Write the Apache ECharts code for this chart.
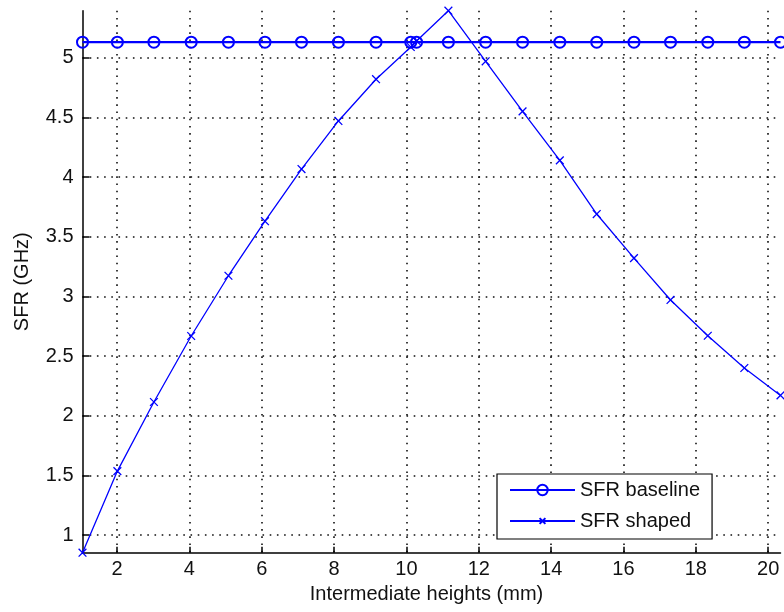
<!DOCTYPE html>
<html>
<head>
<meta charset="utf-8">
<script src="https://cdn.jsdelivr.net/npm/echarts@6/dist/echarts.min.js"></script>
<style>
html,body{margin:0;padding:0;background:#fff;}
#chart{width:784px;height:612px;}
</style>
</head>
<body>
<div id="chart"></div>
<script>
// Intermediate heights (mm) — x positions of the samples
const xHeights = [1.046, 2.01, 3.02, 4.05, 5.08, 6.09, 7.10, 8.12, 9.16, 10.12, 10.28,
                  11.16, 12.19, 13.21, 14.24, 15.26, 16.29, 17.30, 18.33, 19.34, 20.34];
// SFR baseline (GHz)
const sfrBaseline = [5.13, 5.13, 5.13, 5.13, 5.13, 5.13, 5.13, 5.13, 5.13, 5.13, 5.13,
                     5.13, 5.13, 5.13, 5.13, 5.13, 5.13, 5.13, 5.13, 5.13, 5.13];
// SFR shaped (GHz)
const sfrShaped = [0.852, 1.536, 2.115, 2.668, 3.173, 3.63, 4.067, 4.47, 4.82, 5.09, 5.14,
                   5.394, 4.97, 4.55, 4.14, 3.69, 3.32, 2.97, 2.67, 2.40, 2.17];
// tick labels
const xTicks = [2, 4, 6, 8, 10, 12, 14, 16, 18, 20];
const yTicks = [1, 1.5, 2, 2.5, 3, 3.5, 4, 4.5, 5];

const FONT = "'Liberation Sans', Arial, sans-serif";
const TXT = '#111';
const BLUE = '#0000ff';

const pair = (xs, ys) => xs.map((x, i) => [x, ys[i]]);

const chart = echarts.init(document.getElementById('chart'), null, {renderer: 'canvas'});
const gridStyle = {show: true, lineStyle: {color: '#111', width: 1.6, type: [1.6, 5.6]}};

chart.setOption({
  animation: false,
  backgroundColor: '#fff',
  textStyle: {fontFamily: FONT},
  grid: {left: 82.5, right: 3.5, top: 10.7, bottom: 59.3, containLabel: false},
  xAxis: {
    type: 'value',
    min: xHeights[0],
    max: xHeights[xHeights.length - 1],
    name: 'Intermediate heights (mm)',
    nameLocation: 'middle',
    nameGap: 31,
    nameTextStyle: {fontSize: 20, color: TXT, fontFamily: FONT, padding: [0, 10, 0, 0]},
    axisLine: {show: true, onZero: false, lineStyle: {color: '#000', width: 1.5}},
    axisTick: {show: true, inside: true, length: 6, customValues: xTicks, lineStyle: {color: '#000', width: 1.5}},
    axisLabel: {fontSize: 20, color: TXT, fontFamily: FONT, margin: 7, customValues: xTicks},
    splitLine: Object.assign({customValues: xTicks}, gridStyle)
  },
  yAxis: {
    type: 'value',
    min: 0.852,
    max: 5.394,
    name: 'SFR (GHz)',
    nameLocation: 'middle',
    nameGap: 50,
    nameTextStyle: {fontSize: 20, color: TXT, fontFamily: FONT},
    axisLine: {show: true, onZero: false, lineStyle: {color: '#000', width: 1.5}},
    axisTick: {show: true, inside: true, length: 7, customValues: yTicks, lineStyle: {color: '#000', width: 1.5}},
    axisLabel: {fontSize: 20, color: TXT, fontFamily: FONT, margin: 9, customValues: yTicks},
    splitLine: Object.assign({customValues: yTicks}, gridStyle)
  },
  legend: {
    orient: 'vertical',
    left: 497,
    top: 474,
    backgroundColor: '#fff',
    borderColor: '#000',
    borderWidth: 1.2,
    borderRadius: 0,
    padding: [6, 12, 8, 12],
    itemGap: 11,
    itemWidth: 65,
    itemHeight: 13,
    textStyle: {fontSize: 20, color: TXT, fontFamily: FONT},
    data: ['SFR baseline', 'SFR shaped']
  },
  series: [
    {
      name: 'SFR baseline',
      type: 'line',
      data: pair(xHeights, sfrBaseline),
      symbol: 'circle',
      symbolSize: 11,
      showAllSymbol: true,
      lineStyle: {color: BLUE, width: 2.2},
      itemStyle: {color: 'rgba(0,0,0,0)', borderColor: BLUE, borderWidth: 2},
      z: 3
    },
    {
      name: 'SFR shaped',
      type: 'line',
      data: pair(xHeights, sfrShaped),
      symbol: 'path://M0,0M18,18M4,4L14,14M14,4L4,14',
      symbolSize: 14,
      showAllSymbol: true,
      lineStyle: {color: BLUE, width: 1.3},
      itemStyle: {color: BLUE, borderColor: BLUE, borderWidth: 1.3},
      z: 2
    }
  ]
});
</script>
</body>
</html>
